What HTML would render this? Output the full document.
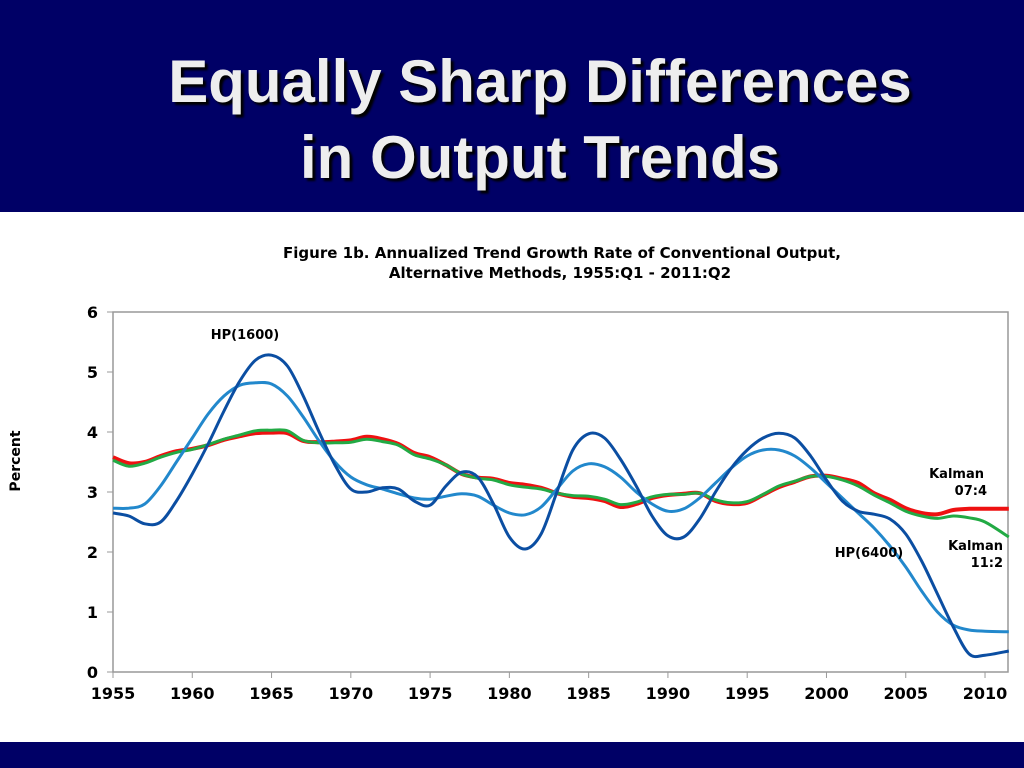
<!DOCTYPE html>
<html><head><meta charset="utf-8"><style>
body{margin:0;width:1024px;height:768px;overflow:hidden;background:#fff;font-family:"Liberation Sans",sans-serif;position:relative}
#hdr{position:absolute;left:0;top:0;width:1024px;height:212px;background:#000066}
#title{position:absolute;left:0;top:44px;width:1080px;text-align:center;color:#eeeeee;font-weight:bold;font-size:60px;line-height:76px;text-shadow:3px 3px 2px #000}
#foot{position:absolute;left:0;top:742px;width:1024px;height:26px;background:#000066}
svg{position:absolute;left:0;top:0}
</style></head><body>
<div id="hdr"></div>
<div id="title">Equally Sharp Differences<br>in Output Trends</div>
<div id="foot"></div>
<svg id="chart" width="1024" height="768"></svg>
<script>
const years=[1955,1956,1957,1958,1959,1960,1961,1962,1963,1964,1965,1966,1967,1968,1969,1970,1971,1972,1973,1974,1975,1976,1977,1978,1979,1980,1981,1982,1983,1984,1985,1986,1987,1988,1989,1990,1991,1992,1993,1994,1995,1996,1997,1998,1999,2000,2001,2002,2003,2004,2005,2006,2007,2008,2009,2010,2011.5];
const hp1600=[2.65,2.6,2.47,2.5,2.85,3.3,3.8,4.35,4.85,5.2,5.28,5.1,4.6,4.0,3.45,3.05,3.0,3.07,3.05,2.85,2.78,3.1,3.33,3.25,2.8,2.25,2.05,2.3,3.0,3.7,3.97,3.9,3.55,3.1,2.6,2.27,2.25,2.55,3.0,3.4,3.7,3.9,3.98,3.9,3.6,3.2,2.85,2.68,2.63,2.55,2.3,1.85,1.3,0.75,0.3,0.28,0.35];
const hp6400=[2.73,2.73,2.8,3.1,3.5,3.9,4.3,4.6,4.78,4.82,4.8,4.6,4.25,3.85,3.5,3.25,3.12,3.05,2.97,2.9,2.88,2.93,2.97,2.93,2.78,2.65,2.62,2.75,3.05,3.35,3.47,3.42,3.25,3.0,2.8,2.68,2.72,2.9,3.15,3.4,3.6,3.7,3.7,3.6,3.4,3.15,2.9,2.65,2.4,2.1,1.75,1.35,1.0,0.78,0.7,0.68,0.67];
const kalman074=[3.58,3.48,3.5,3.6,3.68,3.72,3.78,3.87,3.93,3.98,3.99,3.98,3.85,3.83,3.84,3.86,3.92,3.88,3.8,3.65,3.58,3.45,3.3,3.24,3.22,3.15,3.12,3.07,2.98,2.92,2.9,2.85,2.75,2.8,2.9,2.95,2.97,2.98,2.85,2.8,2.82,2.95,3.08,3.17,3.26,3.27,3.22,3.15,2.98,2.87,2.73,2.65,2.63,2.7,2.72,2.72,2.72];
const kalman112=[3.53,3.43,3.48,3.58,3.66,3.71,3.79,3.88,3.95,4.02,4.03,4.02,3.86,3.82,3.82,3.83,3.88,3.84,3.78,3.62,3.55,3.45,3.3,3.23,3.2,3.12,3.08,3.05,2.98,2.94,2.93,2.88,2.79,2.83,2.92,2.96,2.96,2.98,2.87,2.82,2.84,2.96,3.1,3.18,3.26,3.26,3.2,3.1,2.95,2.82,2.68,2.6,2.56,2.6,2.57,2.5,2.25];
const yTicks=[0,1,2,3,4,5,6];
const xTicks=[1955,1960,1965,1970,1975,1980,1985,1990,1995,2000,2005,2010];
const X0=113,Y0=672,PX=15.855,PY=60;
const xs=y=>X0+(y-1955)*PX, ys=v=>Y0-v*PY;
const svg=document.getElementById('chart');const NS='http://www.w3.org/2000/svg';
function add(tag,attrs,txt){const e=document.createElementNS(NS,tag);for(const k in attrs)e.setAttribute(k,attrs[k]);if(txt!==undefined)e.textContent=txt;svg.appendChild(e);return e;}
let e;
e=add('rect',{x:113,y:312,width:895,height:360,fill:'none',stroke:'#999','stroke-width':1.5});


yTicks.forEach(v=>{
 e=add('line',{x1:107,x2:113,y1:ys(v),y2:ys(v),stroke:'#999'});
 
 
 e=add('text',{x:98,y:ys(v)+6,'text-anchor':'end','font-size':16,'font-weight':'bold','font-family':'DejaVu Sans, sans-serif'},v);
 
 
});
xTicks.forEach(v=>{
 e=add('line',{x1:xs(v),x2:xs(v),y1:672,y2:678,stroke:'#999'});
 
 
 e=add('text',{x:xs(v),y:699,'text-anchor':'middle','font-size':16,'font-weight':'bold','font-family':'DejaVu Sans, sans-serif'},v);
 
 
});
function pathOf(vals){const p=years.map((y,i)=>[xs(y),ys(vals[i])]);let d='M'+p[0][0]+','+p[0][1];
 for(let i=0;i<p.length-1;i++){const a=p[i-1]||p[i],b=p[i],c=p[i+1],n=p[i+2]||c;
 d+=' C'+(b[0]+(c[0]-a[0])/6)+','+(b[1]+(c[1]-a[1])/6)+' '+(c[0]-(n[0]-b[0])/6)+','+(c[1]-(n[1]-b[1])/6)+' '+c[0]+','+c[1];}return d;}
e=add('path',{d:pathOf(kalman074),fill:'none',stroke:'#ee1111','stroke-width':4});


e=add('path',{d:pathOf(kalman112),fill:'none',stroke:'#22aa44','stroke-width':3});


e=add('path',{d:pathOf(hp6400),fill:'none',stroke:'#2288cc','stroke-width':3});


e=add('path',{d:pathOf(hp1600),fill:'none',stroke:'#0b4ea2','stroke-width':3});


const labels=[['HP(1600)',245,339,'middle','hp1600-label'],['HP(6400)',869,557,'middle','hp6400-label'],['Kalman',984,478,'end','kalman-07-4-label'],['07:4',987,495,'end','kalman-07-4-label-2'],['Kalman',1003,550,'end','kalman-11-2-label'],['11:2',1003,567,'end','kalman-11-2-label-2']];
labels.forEach(l=>{e=add('text',{x:l[1],y:l[2],'text-anchor':l[3],'font-size':13,'font-weight':'bold','font-family':'DejaVu Sans, sans-serif'},l[0]);
 
 });
e=add('text',{x:562,y:258,'text-anchor':'middle','font-size':15,'font-weight':'bold','font-family':'DejaVu Sans, sans-serif'},'Figure 1b. Annualized Trend Growth Rate of Conventional Output,');


e=add('text',{x:560,y:278,'text-anchor':'middle','font-size':15,'font-weight':'bold','font-family':'DejaVu Sans, sans-serif'},'Alternative Methods, 1955:Q1 - 2011:Q2');


e=add('text',{x:0,y:0,'text-anchor':'middle','font-size':14,'font-weight':'bold','font-family':'DejaVu Sans, sans-serif',transform:'translate(20,461) rotate(-90)'},'Percent');


</script>
</body></html>
